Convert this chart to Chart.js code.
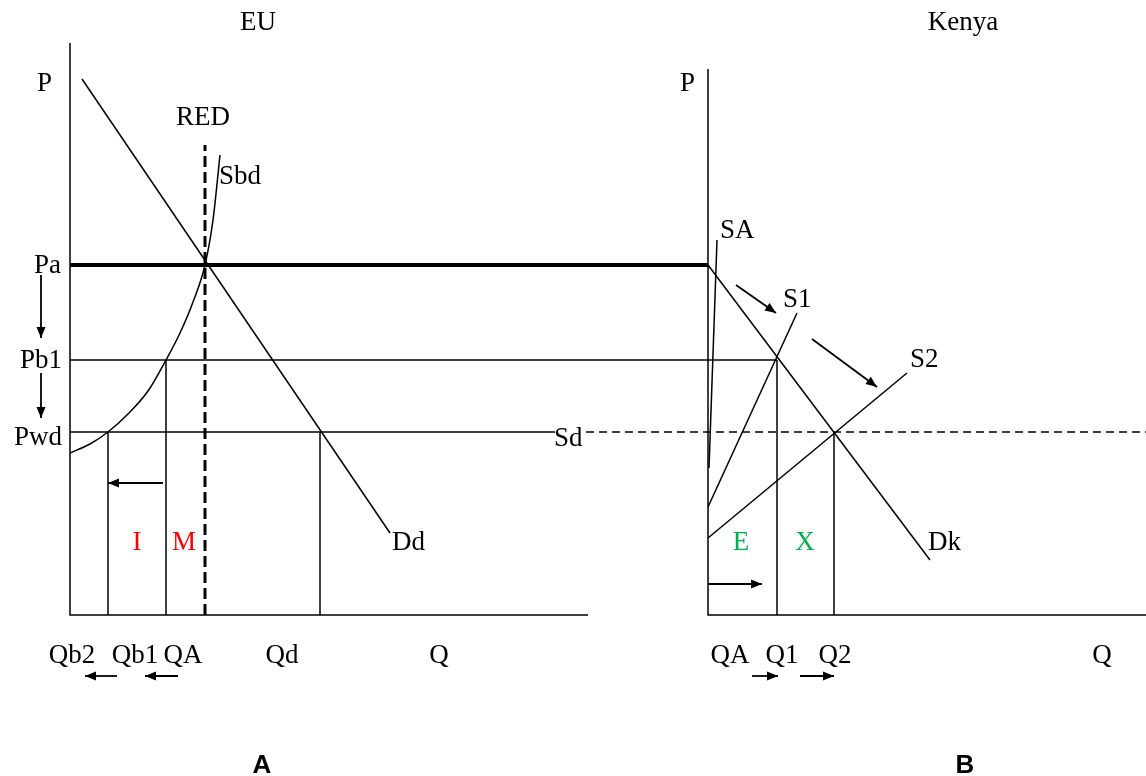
<!DOCTYPE html>
<html>
<head>
<meta charset="utf-8">
<title>EU / Kenya</title>
<script src="https://cdn.jsdelivr.net/npm/chart.js@4.4.0/dist/chart.umd.min.js"></script>
<style>
    html, body { margin: 0; padding: 0; background: #ffffff; }
    #wrap { position: relative; width: 1146px; height: 776px; }
</style>
</head>
<body>
<div id="wrap"><canvas id="diagram"></canvas></div>
<script>
// Diagram units: price up, quantity right, EU origin at (0, 0)
const KENYA_ORIGIN = 63.8;

// Price levels (shared by both panels)
const priceLabels = ['Pa', 'Pb1', 'Pwd'];
const priceValues = [35, 25.5, 18.3];

// EU quantities
const euQtyLabels = ['Qb2', 'Qb1', 'QA', 'Qd'];
const euQtyValues = [3.8, 9.6, 13.5, 25.0];

// Kenya quantities (measured from the Kenya origin)
const keQtyLabels = ['QA', 'Q1', 'Q2'];
const keQtyValues = [0, 6.9, 12.6];

// EU curves
const euDemand = [[1.2, 53.6], [32.0, 8.2]];
const euSupply = [[0, 16.2], [2.0, 17.1], [3.8, 18.3], [5.8, 20.1], [7.8, 22.4], [9.6, 25.5],
                  [11.0, 28.2], [12.3, 31.3], [13.5, 35], [14.3, 39.5], [15.0, 46]];
const euRedTop = 47;

// Kenya curves (x from Kenya origin)
const keSA = [[0.9, 37.5], [0.1, 14.7]];
const keS1 = [[0, 10.8], [8.9, 30.2]];
const keS2 = [[0, 7.7], [19.9, 24.2]];
const keDk = [[0, 35], [22.2, 5.5]];

// Axis extents
const euAxisTop = 57.2, euAxisRight = 51.8;
const keAxisTop = 54.6, keAxisRight = 107.6;
const sdDashStart = 51.6, pwdSolidEnd = 48.5;

// Arrows [from, to]
const arrows = [
    [[-2.9, 34], [-2.9, 27.7]],
    [[-2.9, 24.2], [-2.9, 19.7]],
    [[9.3, 13.2], [3.8, 13.2]],
    [[4.7, -6.1], [1.5, -6.1]],
    [[10.8, -6.1], [7.5, -6.1]],
    [[KENYA_ORIGIN + 2.8, 33], [KENYA_ORIGIN + 6.8, 30.2]],
    [[KENYA_ORIGIN + 10.4, 27.6], [KENYA_ORIGIN + 16.9, 22.8]],
    [[KENYA_ORIGIN, 3.1], [KENYA_ORIGIN + 5.4, 3.1]],
    [[KENYA_ORIGIN + 4.4, -6.1], [KENYA_ORIGIN + 7.0, -6.1]],
    [[KENYA_ORIGIN + 9.2, -6.1], [KENYA_ORIGIN + 12.6, -6.1]]
];

// Text labels: [text, x, y, align, kind]
const textLabels = [
    ['EU', 18.8, 58.5, 'center', 'serif'],
    ['Kenya', 89.3, 58.5, 'center', 'serif'],
    ['P', -1.8, 52.4, 'right', 'serif'],
    ['P', 62.5, 52.4, 'right', 'serif'],
    ['RED', 13.3, 49, 'center', 'serif'],
    ['Sbd', 14.9, 43.1, 'left', 'serif'],
    [priceLabels[0], -0.9, 34.2, 'right', 'serif'],
    [priceLabels[1], -0.8, 24.7, 'right', 'serif'],
    [priceLabels[2], -0.8, 17.0, 'right', 'serif'],
    ['Sd', 48.4, 16.9, 'left', 'serif'],
    ['Dd', 32.2, 6.5, 'left', 'serif'],
    ['I', 6.7, 6.5, 'center', 'red'],
    ['M', 11.4, 6.5, 'center', 'red'],
    ['SA', 65.0, 37.7, 'left', 'serif'],
    ['S1', 71.3, 30.8, 'left', 'serif'],
    ['S2', 84.0, 24.8, 'left', 'serif'],
    ['E', 67.1, 6.5, 'center', 'green'],
    ['X', 73.5, 6.5, 'center', 'green'],
    ['Dk', 85.8, 6.5, 'left', 'serif'],
    [euQtyLabels[0], 0.2, -4.8, 'center', 'serif'],
    [euQtyLabels[1], 6.5, -4.8, 'center', 'serif'],
    [euQtyLabels[2], 11.3, -4.8, 'center', 'serif'],
    [euQtyLabels[3], 21.2, -4.8, 'center', 'serif'],
    ['Q', 36.9, -4.8, 'center', 'serif'],
    [keQtyLabels[0], 66.0, -4.8, 'center', 'serif'],
    [keQtyLabels[1], 71.2, -4.8, 'center', 'serif'],
    [keQtyLabels[2], 76.5, -4.8, 'center', 'serif'],
    ['Q', 103.2, -4.8, 'center', 'serif'],
    ['A', 19.2, -15.8, 'center', 'bold'],
    ['B', 89.5, -15.8, 'center', 'bold']
];

const pts = (arr, dx = 0) => arr.map(([x, y]) => ({ x: x + dx, y: y }));

function line(data, width = 1.5, extra = {}) {
    return {
        data: data,
        showLine: true,
        borderColor: '#000000',
        borderWidth: width,
        pointRadius: 0,
        fill: false,
        ...extra
    };
}

function buildDatasets() {
    const ds = [];
    const [pa, pb1, pwd] = priceValues;
    const [qb2, qb1, qa, qd] = euQtyValues;
    const q1 = KENYA_ORIGIN + keQtyValues[1];
    const q2 = KENYA_ORIGIN + keQtyValues[2];

    // EU axes
    ds.push(line([{ x: 0, y: euAxisTop }, { x: 0, y: 0 }, { x: euAxisRight, y: 0 }]));
    // Kenya axes
    ds.push(line([{ x: KENYA_ORIGIN, y: keAxisTop }, { x: KENYA_ORIGIN, y: 0 }, { x: keAxisRight, y: 0 }]));

    // Price lines
    ds.push(line([{ x: 0, y: pa }, { x: KENYA_ORIGIN, y: pa }], 4));
    ds.push(line([{ x: 0, y: pb1 }, { x: q1, y: pb1 }]));
    ds.push(line([{ x: 0, y: pwd }, { x: pwdSolidEnd, y: pwd }]));
    ds.push(line([{ x: sdDashStart, y: pwd }, { x: keAxisRight, y: pwd }], 1.5, { borderDash: [8, 5] }));

    // EU curves
    ds.push(line(pts(euDemand)));
    ds.push(line(pts(euSupply), 1.5, { cubicInterpolationMode: 'monotone' }));
    ds.push(line([{ x: qa, y: 0 }, { x: qa, y: euRedTop }], 3, { borderDash: [11, 5] }));

    // EU quantity drops
    ds.push(line([{ x: qb2, y: 0 }, { x: qb2, y: pwd }]));
    ds.push(line([{ x: qb1, y: 0 }, { x: qb1, y: pb1 }]));
    ds.push(line([{ x: qd, y: 0 }, { x: qd, y: pwd }]));

    // Kenya curves
    ds.push(line(pts(keSA, KENYA_ORIGIN)));
    ds.push(line(pts(keS1, KENYA_ORIGIN)));
    ds.push(line(pts(keS2, KENYA_ORIGIN)));
    ds.push(line(pts(keDk, KENYA_ORIGIN)));
    ds.push(line([{ x: q1, y: 0 }, { x: q1, y: pb1 }]));
    ds.push(line([{ x: q2, y: 0 }, { x: q2, y: pwd }]));

    // Arrows
    arrows.forEach(a => ds.push(line(pts(a), 1.8, { arrow: true })));
    return ds;
}

// Arrow heads and text
const annotatePlugin = {
    id: 'annotate',
    afterDatasetsDraw(chart) {
        const ctx = chart.ctx;
        const xs = chart.scales.x, ys = chart.scales.y;
        ctx.save();

        chart.data.datasets.forEach((d, i) => {
            if (!d.arrow) return;
            const meta = chart.getDatasetMeta(i);
            const p0 = meta.data[0], p1 = meta.data[meta.data.length - 1];
            const ang = Math.atan2(p1.y - p0.y, p1.x - p0.x);
            const len = 11, half = 4.5;
            ctx.beginPath();
            ctx.moveTo(p1.x, p1.y);
            ctx.lineTo(p1.x - len * Math.cos(ang) + half * Math.sin(ang), p1.y - len * Math.sin(ang) - half * Math.cos(ang));
            ctx.lineTo(p1.x - len * Math.cos(ang) - half * Math.sin(ang), p1.y - len * Math.sin(ang) + half * Math.cos(ang));
            ctx.closePath();
            ctx.fillStyle = '#000000';
            ctx.fill();
        });

        textLabels.forEach(([text, x, y, align, kind]) => {
            ctx.textAlign = align;
            ctx.textBaseline = 'alphabetic';
            if (kind === 'bold') {
                ctx.font = 'bold 26px "Liberation Sans", Arial, sans-serif';
                ctx.fillStyle = '#000000';
            } else {
                ctx.font = '27px "Liberation Serif", "Times New Roman", serif';
                ctx.fillStyle = kind === 'red' ? '#ff0000' : kind === 'green' ? '#00b050' : '#000000';
            }
            ctx.fillText(text, xs.getPixelForValue(x), ys.getPixelForValue(y));
        });
        ctx.restore();
    }
};

document.addEventListener('DOMContentLoaded', () => {
    const ctx = document.getElementById('diagram').getContext('2d');
    new Chart(ctx, {
        type: 'scatter',
        data: { datasets: buildDatasets() },
        options: {
            responsive: true,
            maintainAspectRatio: false,
            animation: false,
            layout: { padding: 0 },
            plugins: {
                legend: { display: false },
                tooltip: { enabled: false }
            },
            scales: {
                x: { type: 'linear', min: -7, max: 107.6, display: false },
                y: { type: 'linear', min: -16.1, max: 61.5, display: false }
            }
        },
        plugins: [annotatePlugin]
    });
});
</script>
</body>
</html>
